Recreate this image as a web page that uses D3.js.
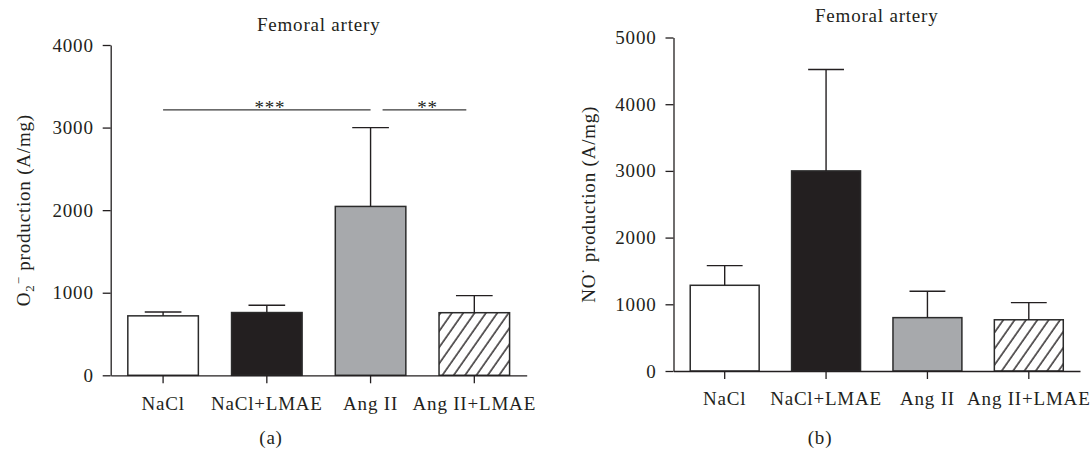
<!DOCTYPE html>
<html>
<head>
<meta charset="utf-8">
<script src="https://cdn.jsdelivr.net/npm/d3@7"></script>
<style>
  body { margin: 0; background: #fff; }
  svg text { font-family: "Liberation Serif", "Times New Roman", serif; fill: #231f20; }
</style>
</head>
<body>
<svg id="graph" width="1091" height="451"></svg>
<script>
const categories = ["NaCl", "NaCl+LMAE", "Ang II", "Ang II+LMAE"];

// panel (a): superoxide, mean and SEM
const superoxideMean = [720, 760, 2045, 758];
const superoxideErr = [47, 88, 955, 207];
const superoxideTicks = [0, 1000, 2000, 3000, 4000];

// panel (b): nitric oxide, mean and SEM
const nitricMean = [1285, 3000, 800, 768];
const nitricErr = [295, 1520, 395, 257];
const nitricTicks = [0, 1000, 2000, 3000, 4000, 5000];

// significance brackets on panel (a)
const sigFrom = ["NaCl", "Ang II"];
const sigTo = ["Ang II", "Ang II+LMAE"];
const sigLabels = ["***", "**"];
const sigLevel = 3215;

const fills = ["#ffffff", "#231f20", "#a7a9ac", "url(#hatch)"];
const ink = "#231f20";
const fontSize = 19;
const spacing = "0.8px";

const svg = d3.select("#graph");
svg.append("rect").attr("width", 1091).attr("height", 451).attr("fill", "#fff");

const defs = svg.append("defs");
defs.append("pattern")
  .attr("id", "hatch")
  .attr("patternUnits", "userSpaceOnUse")
  .attr("width", 9.3)
  .attr("height", 9.3)
  .attr("patternTransform", "rotate(35)")
  .call((p) => p.append("rect").attr("width", 9.3).attr("height", 9.3).attr("fill", "#fff"))
  .append("line")
  .attr("x1", 1).attr("y1", 0).attr("x2", 1).attr("y2", 9.3)
  .attr("stroke", ink)
  .attr("stroke-width", 1.4);

function panel(opts) {
  const { left, right, top, bottom, max, means, errs, ticks } = opts;

  const x = d3.scaleBand()
    .domain(categories)
    .range([left, right])
    .paddingInner(0.32)
    .paddingOuter(0.165);

  const y = d3.scaleLinear()
    .domain([0, max])
    .range([bottom, top]);

  const g = svg.append("g");

  // bars
  g.append("g")
    .selectAll("rect")
    .data(categories)
    .join("rect")
    .attr("x", (d) => x(d))
    .attr("y", (d, i) => y(means[i]))
    .attr("width", x.bandwidth())
    .attr("height", (d, i) => y(0) - y(means[i]))
    .attr("fill", (d, i) => fills[i])
    .attr("stroke", "#2b2b2b")
    .attr("stroke-width", 1.5);

  // error bars (upper only)
  const cap = x.bandwidth() * 0.26;
  const eb = g.append("g").selectAll("g").data(categories).join("g")
    .attr("stroke", ink).attr("stroke-width", 1.4);
  eb.append("line")
    .attr("x1", (d) => x(d) + x.bandwidth() / 2)
    .attr("x2", (d) => x(d) + x.bandwidth() / 2)
    .attr("y1", (d, i) => y(means[i]))
    .attr("y2", (d, i) => y(means[i] + errs[i]));
  eb.append("line")
    .attr("x1", (d) => x(d) + x.bandwidth() / 2 - cap)
    .attr("x2", (d) => x(d) + x.bandwidth() / 2 + cap)
    .attr("y1", (d, i) => y(means[i] + errs[i]))
    .attr("y2", (d, i) => y(means[i] + errs[i]));

  // y axis
  g.append("g")
    .attr("transform", `translate(${left},0)`)
    .call(d3.axisLeft(y).tickValues(ticks).tickFormat(d3.format("d"))
      .tickSize(8).tickSizeOuter(0).tickPadding(9))
    .call((a) => a.selectAll("path, line").attr("stroke", ink).attr("stroke-width", 1.3))
    .call((a) => a.selectAll("text")
      .attr("font-size", fontSize).attr("letter-spacing", spacing)
      .attr("font-family", null).attr("fill", ink));

  // x axis
  g.append("g")
    .attr("transform", `translate(0,${bottom})`)
    .call(d3.axisBottom(x).tickSize(8).tickSizeOuter(0).tickPadding(13))
    .call((a) => a.selectAll("path, line").attr("stroke", ink).attr("stroke-width", 1.3))
    .call((a) => a.selectAll("text")
      .attr("font-size", fontSize).attr("letter-spacing", spacing)
      .attr("font-family", null).attr("fill", ink));

  // title
  g.append("text")
    .attr("x", (left + right) / 2)
    .attr("y", opts.titleY)
    .attr("text-anchor", "middle")
    .attr("font-size", fontSize)
    .attr("letter-spacing", spacing)
    .text("Femoral artery");

  // panel letter
  g.append("text")
    .attr("x", opts.letterX)
    .attr("y", 444)
    .attr("text-anchor", "middle")
    .attr("font-size", fontSize)
    .attr("letter-spacing", spacing)
    .text(opts.letter);

  return { g, x, y };
}

const a = panel({
  left: 110.7, right: 526.7, top: 45, bottom: 375.3, max: 4000,
  means: superoxideMean, errs: superoxideErr, ticks: superoxideTicks,
  titleY: 31, letter: "(a)", letterX: 271
});

const b = panel({
  left: 673.5, right: 1080, top: 37.5, bottom: 371, max: 5000,
  means: nitricMean, errs: nitricErr, ticks: nitricTicks,
  titleY: 22, letter: "(b)", letterX: 820
});

// y-axis titles
const la = a.g.append("text")
  .attr("transform", `translate(30,${(45 + 375.3) / 2}) rotate(-90)`)
  .attr("text-anchor", "middle")
  .attr("font-size", fontSize)
  .attr("letter-spacing", spacing);
la.append("tspan").text("O");
la.append("tspan").attr("font-size", 13).attr("dy", 4).text("2");
la.append("tspan").attr("font-size", 13).attr("dy", -11).text("−");
la.append("tspan").attr("dy", 7).text(" production (A/mg)");

const lb = b.g.append("text")
  .attr("transform", `translate(595,${(37.5 + 371) / 2}) rotate(-90)`)
  .attr("text-anchor", "middle")
  .attr("font-size", fontSize)
  .attr("letter-spacing", spacing);
lb.append("tspan").text("NO");
lb.append("tspan").attr("font-size", 15).attr("dy", -7).text("·");
lb.append("tspan").attr("dy", 7).text(" production (A/mg)");

// significance lines on panel (a)
const bw = a.x.bandwidth() / 2;
const sig = a.g.append("g");
sigLabels.forEach((lab, i) => {
  const x1 = a.x(sigFrom[i]) + bw + (i > 0 ? 12 : 0);
  const x2 = a.x(sigTo[i]) + bw - (i > 0 ? 8 : 0);
  sig.append("line")
    .attr("x1", x1).attr("x2", x2)
    .attr("y1", a.y(sigLevel)).attr("y2", a.y(sigLevel))
    .attr("stroke", "#3a3a3a").attr("stroke-width", 1.3);
  sig.append("text")
    .attr("x", (x1 + x2) / 2 + 3)
    .attr("y", a.y(sigLevel) + 4)
    .attr("text-anchor", "middle")
    .attr("font-size", fontSize)
    .attr("letter-spacing", spacing)
    .attr("fill", "#555")
    .text(lab);
});
</script>
</body>
</html>
